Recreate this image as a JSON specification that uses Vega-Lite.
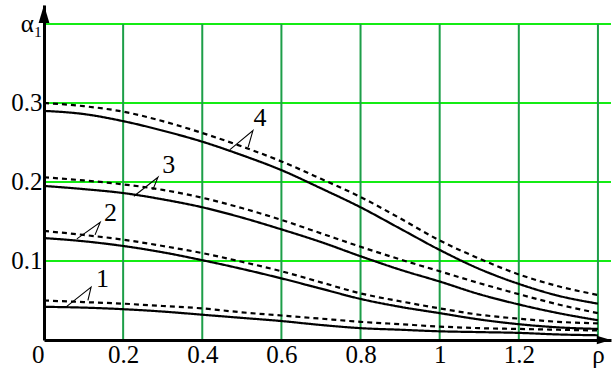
{
  "$schema": "https://vega.github.io/schema/vega-lite/v6.json",
  "width": 567,
  "height": 335,
  "autosize": {"type": "none"},
  "padding": {"left": 44, "top": 5, "right": 1, "bottom": 36},
  "config": {
    "view": {"stroke": null},
    "text": {"font": "Times New Roman, Liberation Serif, DejaVu Serif, serif", "fontSize": 25},
    "axis": {"labelFont": "Times New Roman, Liberation Serif, DejaVu Serif, serif", "labelFontSize": 25}
  },
  "datasets": {
    "curves": [
      {"x": 0.0, "s1": 0.042, "d1": 0.050, "s2": 0.129, "d2": 0.138, "s3": 0.195, "d3": 0.206, "s4": 0.290, "d4": 0.300},
      {"x": 0.1, "s1": 0.041, "d1": 0.048, "s2": 0.125, "d2": 0.133, "s3": 0.191, "d3": 0.202, "s4": 0.286, "d4": 0.296},
      {"x": 0.2, "s1": 0.039, "d1": 0.046, "s2": 0.119, "d2": 0.127, "s3": 0.186, "d3": 0.197, "s4": 0.277, "d4": 0.289},
      {"x": 0.3, "s1": 0.036, "d1": 0.043, "s2": 0.111, "d2": 0.119, "s3": 0.178, "d3": 0.190, "s4": 0.265, "d4": 0.277},
      {"x": 0.4, "s1": 0.032, "d1": 0.040, "s2": 0.101, "d2": 0.110, "s3": 0.168, "d3": 0.180, "s4": 0.251, "d4": 0.262},
      {"x": 0.5, "s1": 0.028, "d1": 0.035, "s2": 0.090, "d2": 0.099, "s3": 0.155, "d3": 0.167, "s4": 0.234, "d4": 0.245},
      {"x": 0.6, "s1": 0.024, "d1": 0.031, "s2": 0.078, "d2": 0.087, "s3": 0.140, "d3": 0.152, "s4": 0.215, "d4": 0.226},
      {"x": 0.7, "s1": 0.019, "d1": 0.027, "s2": 0.065, "d2": 0.073, "s3": 0.124, "d3": 0.135, "s4": 0.192, "d4": 0.204},
      {"x": 0.8, "s1": 0.015, "d1": 0.023, "s2": 0.052, "d2": 0.059, "s3": 0.106, "d3": 0.118, "s4": 0.168, "d4": 0.181},
      {"x": 0.9, "s1": 0.013, "d1": 0.020, "s2": 0.042, "d2": 0.049, "s3": 0.089, "d3": 0.102, "s4": 0.141, "d4": 0.154},
      {"x": 1.0, "s1": 0.011, "d1": 0.017, "s2": 0.034, "d2": 0.040, "s3": 0.074, "d3": 0.087, "s4": 0.114, "d4": 0.126},
      {"x": 1.1, "s1": 0.010, "d1": 0.015, "s2": 0.026, "d2": 0.032, "s3": 0.058, "d3": 0.072, "s4": 0.090, "d4": 0.103},
      {"x": 1.2, "s1": 0.009, "d1": 0.014, "s2": 0.020, "d2": 0.027, "s3": 0.045, "d3": 0.058, "s4": 0.071, "d4": 0.083},
      {"x": 1.3, "s1": 0.007, "d1": 0.013, "s2": 0.016, "d2": 0.023, "s3": 0.034, "d3": 0.045, "s4": 0.056, "d4": 0.068},
      {"x": 1.4, "s1": 0.006, "d1": 0.012, "s2": 0.014, "d2": 0.021, "s3": 0.025, "d3": 0.034, "s4": 0.046, "d4": 0.057}
    ],
    "leaders": [
      {"id": "4", "o": 1, "x": 0.470, "y": 0.241}, {"id": "4", "o": 2, "x": 0.528, "y": 0.265}, {"id": "4", "o": 3, "x": 0.516, "y": 0.244},
      {"id": "3", "o": 1, "x": 0.227, "y": 0.182}, {"id": "3", "o": 2, "x": 0.288, "y": 0.206}, {"id": "3", "o": 3, "x": 0.275, "y": 0.190},
      {"id": "2", "o": 1, "x": 0.083, "y": 0.128}, {"id": "2", "o": 2, "x": 0.142, "y": 0.149}, {"id": "2", "o": 3, "x": 0.129, "y": 0.133},
      {"id": "1", "o": 1, "x": 0.056, "y": 0.042}, {"id": "1", "o": 2, "x": 0.119, "y": 0.067}, {"id": "1", "o": 3, "x": 0.111, "y": 0.050}
    ],
    "labels": [
      {"t": "4", "x": 0.546, "y": 0.281},
      {"t": "3", "x": 0.315, "y": 0.222},
      {"t": "2", "x": 0.168, "y": 0.161},
      {"t": "1", "x": 0.148, "y": 0.0766}
    ],
    "vgrid": [{"g": 0.2}, {"g": 0.4}, {"g": 0.6}, {"g": 0.8}, {"g": 1.0}, {"g": 1.2}, {"g": 1.4}],
    "hgrid": [{"g": 0.1}, {"g": 0.2}, {"g": 0.3}, {"g": 0.4}]
  },
  "layer": [
    {
      "data": {"name": "hgrid"},
      "mark": {"type": "rule", "color": "#14ec14", "strokeWidth": 2},
      "encoding": {
        "y": {"field": "g", "type": "quantitative", "scale": {"domain": [0, 0.424], "nice": false, "zero": false},
              "axis": {"title": null, "values": [0.1, 0.2, 0.3, 0.4], "labelExpr": "datum.value > 0.39 ? 'α₁' : format(datum.value, '.1f')", "labelPadding": 2, "labelFont": "Times New Roman, Liberation Serif, DejaVu Serif, serif", "labelFontSize": 25, "labelColor": "black", "labelFlush": false, "ticks": false, "grid": false, "domainColor": "black", "domainWidth": 3, "zindex": 1}},
        "x": {"datum": 0, "type": "quantitative", "scale": {"domain": [0, 1.433], "nice": false, "zero": false},
              "axis": {"title": null, "values": [0, 0.2, 0.4, 0.6, 0.8, 1, 1.2, 1.4], "labelExpr": "datum.value > 1.39 ? 'ρ' : format(datum.value, '.1~f')", "labelAlign": {"condition": {"test": "datum.value == 0", "value": "right"}, "value": "center"}, "labelPadding": 2, "labelFont": "Times New Roman, Liberation Serif, DejaVu Serif, serif", "labelFontSize": 25, "labelColor": "black", "labelFlush": false, "ticks": false, "grid": false, "domainColor": "black", "domainWidth": 3, "zindex": 1}},
        "x2": {"datum": 1.433}
      }
    },
    {
      "data": {"name": "vgrid"},
      "mark": {"type": "rule", "color": "#1d9e48", "strokeWidth": 2},
      "encoding": {
        "x": {"field": "g", "type": "quantitative"},
        "y": {"datum": 0, "type": "quantitative"},
        "y2": {"datum": 0.4}
      }
    },
    {
      "data": {"name": "curves"},
      "transform": [{"fold": ["s1", "d1", "s2", "d2", "s3", "d3", "s4", "d4"], "as": ["k", "v"]}],
      "mark": {"type": "line", "interpolate": "monotone", "color": "black", "strokeWidth": 2.2},
      "encoding": {
        "x": {"field": "x", "type": "quantitative"},
        "y": {"field": "v", "type": "quantitative"},
        "detail": {"field": "k"},
        "strokeDash": {"field": "k", "type": "nominal", "legend": null,
                       "scale": {"domain": ["s1", "d1", "s2", "d2", "s3", "d3", "s4", "d4"], "range": [[1, 0], [5, 4], [1, 0], [5, 4], [1, 0], [5, 4], [1, 0], [5, 4]]}}
      }
    },
    {
      "data": {"name": "leaders"},
      "mark": {"type": "line", "color": "black", "strokeWidth": 1.1},
      "encoding": {
        "x": {"field": "x", "type": "quantitative"},
        "y": {"field": "y", "type": "quantitative"},
        "detail": {"field": "id"},
        "order": {"field": "o"}
      }
    },
    {
      "data": {"name": "labels"},
      "mark": {"type": "text", "font": "Times New Roman, Liberation Serif, DejaVu Serif, serif", "fontSize": 26, "color": "black", "baseline": "middle", "align": "center"},
      "encoding": {
        "x": {"field": "x", "type": "quantitative"},
        "y": {"field": "y", "type": "quantitative"},
        "text": {"field": "t"}
      }
    },
    {
      "data": {"values": [{"x": 1.415, "y": 0}]},
      "mark": {"type": "point", "shape": "M1,0L-1,0.6L-1,-0.6Z", "filled": true, "color": "black", "size": 200, "opacity": 1},
      "encoding": {
        "x": {"field": "x", "type": "quantitative"},
        "y": {"field": "y", "type": "quantitative"}
      }
    },
    {
      "data": {"values": [{"x": 0, "y": 0.4126}]},
      "mark": {"type": "point", "shape": "M0,-1L0.6,1L-0.6,1Z", "filled": true, "color": "black", "size": 324, "opacity": 1},
      "encoding": {
        "x": {"field": "x", "type": "quantitative"},
        "y": {"field": "y", "type": "quantitative"}
      }
    }
  ]
}
